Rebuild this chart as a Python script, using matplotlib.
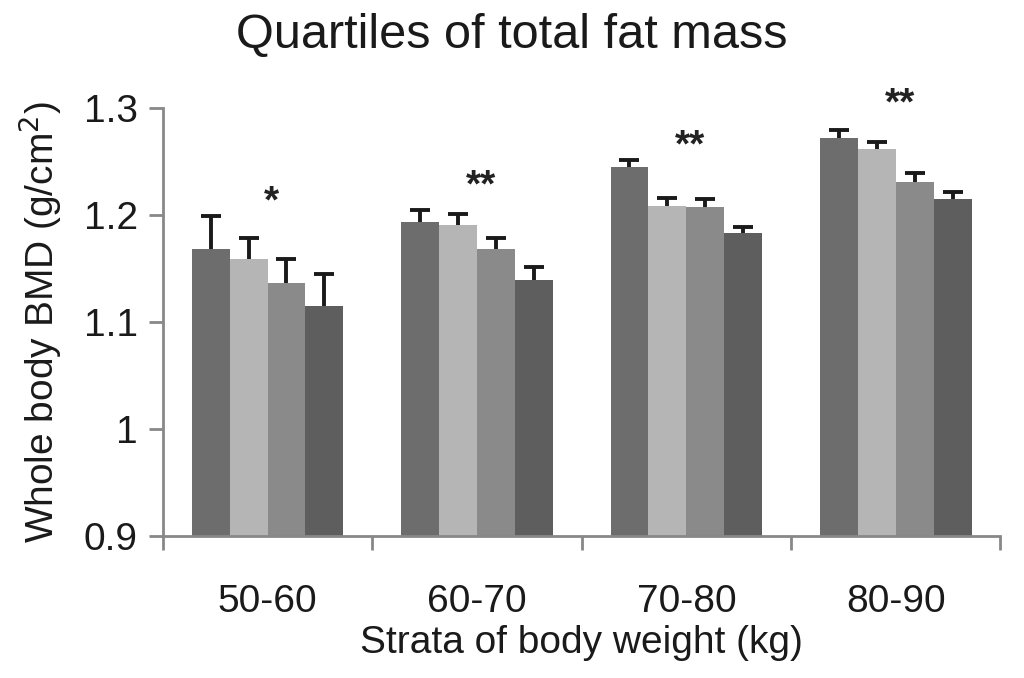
import numpy as np
import matplotlib
matplotlib.use("Agg")
import matplotlib.pyplot as plt

plt.rcParams['font.family'] = ['Liberation Sans', 'DejaVu Sans']

strata = ['50-60', '60-70', '70-80', '80-90']
# quartiles of total fat mass (Q1..Q4), mean BMD and SE
q1 = [1.168, 1.193, 1.245, 1.272]
q2 = [1.159, 1.191, 1.208, 1.262]
q3 = [1.136, 1.168, 1.207, 1.231]
q4 = [1.115, 1.139, 1.183, 1.215]
q1_err = [0.031, 0.012, 0.006, 0.007]
q2_err = [0.019, 0.010, 0.008, 0.006]
q3_err = [0.023, 0.010, 0.008, 0.008]
q4_err = [0.030, 0.012, 0.006, 0.006]
signif = ['*', '**', '**', '**']
signif_y = [1.212, 1.227, 1.264, 1.303]

colors = ['#6d6d6d', '#b5b5b5', '#8a8a8a', '#5e5e5e']
spine = '#888888'
ink = '#1a1a1a'

fig = plt.figure(figsize=(10.24, 6.78), dpi=100)
ax = fig.add_axes([0.159, 0.209, 0.818, 0.632])

x = np.arange(len(strata))
w = 0.181
series = [(q1, q1_err), (q2, q2_err), (q3, q3_err), (q4, q4_err)]
for i, (vals, errs) in enumerate(series):
    pos = x + (i - 1.5) * w
    vals = np.array(vals)
    tops = vals + np.array(errs)
    ax.bar(pos, vals - 0.9, w, bottom=0.9, color=colors[i], edgecolor='none', zorder=2)
    ax.vlines(pos, vals, tops, color=ink, linewidth=2.8, zorder=3)
    ax.plot(pos, tops, ls='none', marker='_', markersize=14, mew=2.8,
            color=ink, zorder=3)

for xi, s, sy in zip(x, signif, signif_y):
    ax.text(xi + 0.02, sy, s, ha='center', va='center', fontsize=28,
            fontweight='bold', color='#222222', clip_on=False)

ax.set_xlim(-0.5, 3.5)
ax.set_ylim(0.9, 1.3)
ax.set_yticks([0.9, 1.0, 1.1, 1.2, 1.3])
ax.set_yticklabels(['0.9', '1', '1.1', '1.2', '1.3'])
ax.set_xticks(x)
ax.set_xticklabels(strata)
ax.set_xticks(np.arange(-0.5, 4.0, 1.0), minor=True)
ax.tick_params(axis='x', which='major', length=0, pad=34, labelsize=28, labelcolor=ink)
ax.tick_params(axis='x', which='minor', length=10, width=2, color=spine, direction='out')
ax.tick_params(axis='y', length=10, width=2, color=spine, direction='out',
               labelsize=28, labelcolor=ink, pad=8)

for side in ['top', 'right']:
    ax.spines[side].set_visible(False)
for side in ['left', 'bottom']:
    ax.spines[side].set_color(spine)
    ax.spines[side].set_linewidth(2)

ax.set_xlabel('Strata of body weight (kg)', fontsize=28, color=ink, labelpad=4)
ax.set_ylabel('Whole body BMD (g/cm$^2$)', fontsize=28, color=ink, labelpad=14)
fig.text(0.5, 0.948, 'Quartiles of total fat mass', ha='center', va='center',
         fontsize=35, color=ink)

fig.savefig('out.png', dpi=100)
